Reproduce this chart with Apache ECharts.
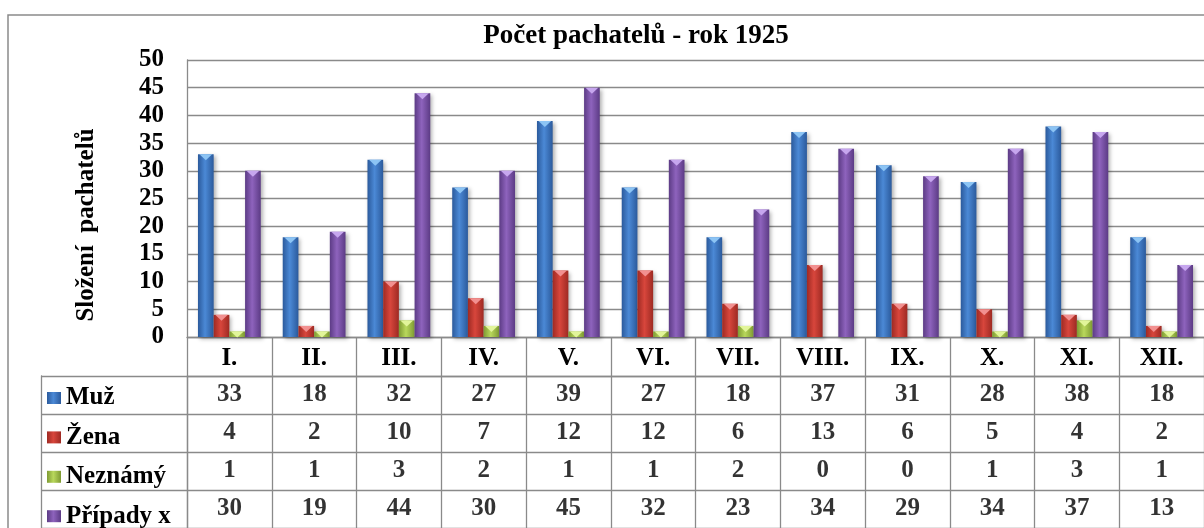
<!DOCTYPE html>
<html>
<head>
<meta charset="utf-8">
<title>Počet pachatelů - rok 1925</title>
<script src="https://cdn.jsdelivr.net/npm/echarts@6/dist/echarts.min.js"></script>
<style>
  html, body { margin: 0; padding: 0; background: #fff; }
  #chart { width: 1204px; height: 528px; }
</style>
</head>
<body>
<div id="chart"></div>
<script>
// data
const months = ['I.', 'II.', 'III.', 'IV.', 'V.', 'VI.', 'VII.', 'VIII.', 'IX.', 'X.', 'XI.', 'XII.']
const seriesNames = ['Muž', 'Žena', 'Neznámý', 'Případy x']
const muz = [33, 18, 32, 27, 39, 27, 18, 37, 31, 28, 38, 18]
const zena = [4, 2, 10, 7, 12, 12, 6, 13, 6, 5, 4, 2]
const neznamy = [1, 1, 3, 2, 1, 1, 2, 0, 0, 1, 3, 1]
const pripady = [30, 19, 44, 30, 45, 32, 23, 34, 29, 34, 37, 13]
const allValues = [muz, zena, neznamy, pripady]

// [okraj, střed, špička]
const colorList = [
  ['#2b5a9c', '#4b89d6', '#8cc4f4'],
  ['#9e2a23', '#d8463c', '#f29090'],
  ['#7e9a33', '#b9d85c', '#e2f59a'],
  ['#5c3b85', '#8e63bd', '#c6a6ee']
]

const font = 'Liberation Serif, Times New Roman, serif'
const fontSize = 25
const gridColor = '#8a8a8a'
const barW = 15.7

const chart = echarts.init(document.getElementById('chart'))

const barSeries = []
const tipSeries = []
for (let i = 0; i < seriesNames.length; i++) {
  barSeries.push({
    name: seriesNames[i],
    type: 'bar',
    xAxisIndex: 0,
    yAxisIndex: 0,
    data: allValues[i],
    barWidth: barW,
    barGap: '0%',
    itemStyle: {
      color: new echarts.graphic.LinearGradient(0, 0, 1, 0, [
        { offset: 0, color: colorList[i][0] },
        { offset: 0.45, color: colorList[i][1] },
        { offset: 1, color: colorList[i][0] }
      ]),
      shadowBlur: 4,
      shadowOffsetX: 2,
      shadowOffsetY: 2,
      shadowColor: 'rgba(0,0,0,0.3)'
    }
  })
  // světlý trojúhelník nahoře (zkosení jako v Excelu)
  tipSeries.push({
    name: seriesNames[i],
    type: 'pictorialBar',
    xAxisIndex: 0,
    yAxisIndex: 0,
    data: allValues[i].map(v => v > 0 ? v : '-'),
    barWidth: barW,
    barGap: '0%',
    symbol: 'triangle',
    symbolRotate: 180,
    symbolSize: [barW - 3, 6],
    symbolPosition: 'end',
    z: 3,
    silent: true,
    itemStyle: { color: colorList[i][2] }
  })
}

// hodnoty v tabulce
const cells = []
for (let r = 0; r < seriesNames.length; r++) {
  for (let m = 0; m < months.length; m++) {
    cells.push([m, r, allValues[r][m]])
  }
}

chart.setOption({
  animation: false,
  title: {
    text: 'Počet pachatelů - rok 1925',
    left: 636,
    top: 23,
    padding: 0,
    textAlign: 'center',
    textStyle: { fontFamily: font, fontSize: 27, fontWeight: 'bold', color: '#000' }
  },
  graphic: [{
    type: 'rect',
    shape: { x: 8, y: 15, width: 1400, height: 700 },
    style: { fill: 'none', stroke: gridColor, lineWidth: 1.5 },
    silent: true
  }],
  legend: {
    data: seriesNames,
    orient: 'vertical',
    left: 47,
    top: 385.5,
    height: 180,
    padding: 0,
    itemGap: 14.4,
    itemWidth: 14,
    itemHeight: 12,
    icon: 'rect',
    textStyle: { fontFamily: font, fontSize: fontSize, fontWeight: 'bold', color: '#000', lineHeight: 25 }
  },
  grid: [
    { left: 187, right: -10, top: 60, height: 277 },
    { left: 187, right: -10, top: 376, height: 158 }
  ],
  xAxis: [{
    type: 'category',
    gridIndex: 0,
    data: months,
    axisLine: { show: true, lineStyle: { color: gridColor, width: 1.3 } },
    axisTick: { show: true, length: 39, interval: 0, lineStyle: { color: gridColor, width: 1.3 } },
    axisLabel: { interval: 0, margin: 9, fontFamily: font, fontSize: fontSize, fontWeight: 'bold', color: '#000' }
  }, {
    type: 'category',
    gridIndex: 1,
    position: 'top',
    data: months,
    axisLine: { show: true, lineStyle: { color: gridColor, width: 1.3 } },
    axisTick: { show: false },
    axisLabel: { show: false },
    splitLine: { show: true, interval: 0, lineStyle: { color: gridColor, width: 1.3 } }
  }],
  yAxis: [{
    type: 'value',
    gridIndex: 0,
    min: 0,
    max: 50,
    interval: 5,
    name: 'Složení  pachatelů',
    nameLocation: 'middle',
    nameGap: 88,
    nameRotate: 90,
    nameTextStyle: { fontFamily: font, fontSize: fontSize, fontWeight: 'bold', color: '#000', padding: [0, 53, 0, 0] },
    axisLine: { show: true, lineStyle: { color: gridColor, width: 1.3 } },
    axisTick: { show: false },
    axisLabel: { margin: 23, fontFamily: font, fontSize: fontSize, fontWeight: 'bold', color: '#000' },
    splitLine: { show: true, lineStyle: { color: gridColor, width: 1.3 } }
  }, {
    type: 'category',
    gridIndex: 1,
    inverse: true,
    data: seriesNames,
    axisLine: { show: true, lineStyle: { color: gridColor, width: 1.3 } },
    axisTick: { show: true, length: 146, interval: 0, lineStyle: { color: gridColor, width: 1.3 } },
    axisLabel: { show: false },
    splitLine: { show: true, interval: 0, lineStyle: { color: gridColor, width: 1.3 } }
  }, {
    // levý okraj tabulky
    type: 'category',
    gridIndex: 1,
    position: 'left',
    offset: 146,
    data: seriesNames,
    axisLine: { show: true, lineStyle: { color: gridColor, width: 1.3 } },
    axisTick: { show: false },
    axisLabel: { show: false }
  }],
  series: barSeries.concat(tipSeries).concat([{
    name: 'tabulka',
    type: 'scatter',
    xAxisIndex: 1,
    yAxisIndex: 1,
    data: cells,
    symbolSize: 0,
    silent: true,
    label: {
      show: true,
      position: 'inside',
      formatter: p => p.value[2],
      fontFamily: font,
      fontSize: fontSize,
      fontWeight: 'bold',
      color: '#000'
    }
  }])
})
</script>
</body>
</html>
